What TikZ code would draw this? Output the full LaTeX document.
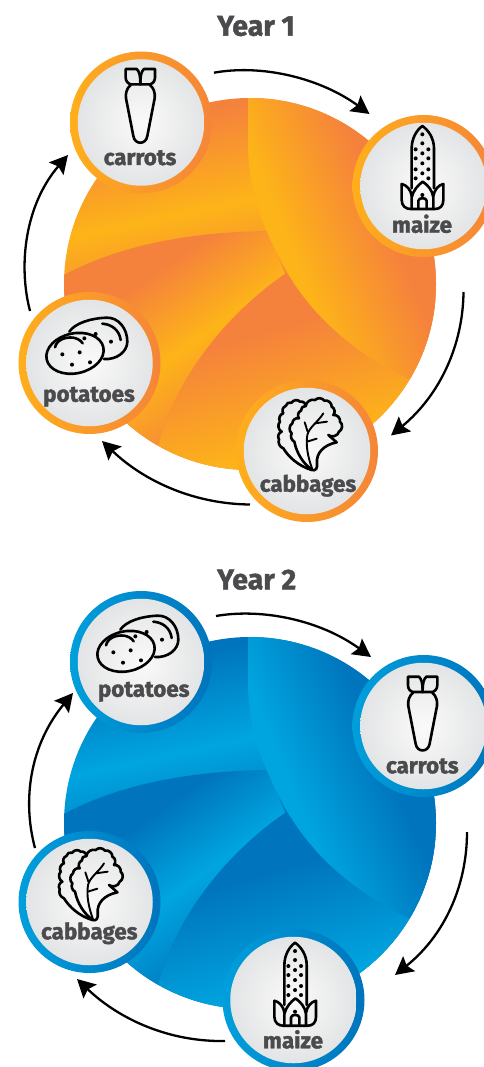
\documentclass[tikz,border=0pt]{standalone}
\usepackage{fontspec}
\setmainfont{Fira Sans}[BoldFeatures={FakeBold=1.6}]
\usetikzlibrary{arrows.meta}
\definecolor{txtgray}{HTML}{4B4B4D}
\definecolor{darkA}{HTML}{F5823C}
\definecolor{lightA}{HTML}{FDB418}
\definecolor{rimlA}{HTML}{FFAE1C}
\definecolor{rimdA}{HTML}{F58538}
\definecolor{darkB}{HTML}{0074BD}
\definecolor{lightB}{HTML}{00A5DF}
\definecolor{rimlB}{HTML}{009FDC}
\definecolor{rimdB}{HTML}{0074BD}
\definecolor{discedge}{HTML}{E3E4E5}
\definecolor{disccore}{HTML}{FAFAFA}
\pgfdeclareverticalshading{bladeAA}{100bp}{color(0bp)=(darkA); color(42bp)=(darkA); color(50bp)=(lightA); color(58bp)=(darkA); color(100bp)=(darkA)}
\pgfdeclareverticalshading{bladeBA}{100bp}{color(0bp)=(darkA); color(42.5bp)=(darkA); color(50bp)=(lightA); color(56.5bp)=(darkA); color(100bp)=(darkA)}
\pgfdeclareverticalshading{bladeCA}{100bp}{color(0bp)=(lightA); color(50bp)=(lightA); color(60bp)=(darkA); color(100bp)=(darkA)}
\pgfdeclareverticalshading{bladeDA}{100bp}{color(0bp)=(lightA); color(50bp)=(lightA); color(58.3bp)=(darkA); color(100bp)=(darkA)}
\pgfdeclareverticalshading{bladeAB}{100bp}{color(0bp)=(darkB); color(42bp)=(darkB); color(50bp)=(lightB); color(58bp)=(darkB); color(100bp)=(darkB)}
\pgfdeclareverticalshading{bladeBB}{100bp}{color(0bp)=(darkB); color(42.5bp)=(darkB); color(50bp)=(lightB); color(56.5bp)=(darkB); color(100bp)=(darkB)}
\pgfdeclareverticalshading{bladeCB}{100bp}{color(0bp)=(lightB); color(50bp)=(lightB); color(60bp)=(darkB); color(100bp)=(darkB)}
\pgfdeclareverticalshading{bladeDB}{100bp}{color(0bp)=(lightB); color(50bp)=(lightB); color(58.3bp)=(darkB); color(100bp)=(darkB)}
\tikzset{
  x=1pt,y=-1pt,
  ringnode/.style={circle,inner sep=0pt,minimum size=142pt,draw=none},
  facenode/.style={circle,inner sep=0pt,minimum size=126.5pt,draw=none,inner color=disccore,outer color=discedge},
  croplabel/.style={anchor=base,inner sep=0pt,text=txtgray,font=\fontsize{22.4}{23}\selectfont\bfseries},
  yearlabel/.style={anchor=base,inner sep=0pt,text=txtgray,font=\fontsize{28.5}{30}\selectfont\bfseries},
  cyc/.style={draw=black,line width=2.3pt,-{Stealth[length=18pt,width=19pt,inset=3pt]}},
  iconline/.style={draw=black,line width=2.6pt,line join=round,line cap=round,fill=none},
  iconfine/.style={draw=black,line width=1.9pt,line join=round,line cap=round,fill=none},
}
% --- disc with four blades; drawn in the coordinates of Year 1
\newcommand\bladedisc[1]{%
  \begin{scope}
    \clip (250,284) circle[radius=186];
    \shade[shading=bladeA#1,shading angle=12] (-134,-83) rectangle (466,517);
    \begin{scope}
      \clip (268,231) .. controls (190,232) and (115,245) .. (55,280) -- (40,460) -- (158,446)
        .. controls (178,370) and (235,308) .. (285,274) -- cycle;
      \shade[shading=bladeB#1,shading angle=35] (-105,40) rectangle (495,640);
    \end{scope}
    \begin{scope}
      \clip (285,274) .. controls (235,308) and (178,370) .. (158,446) -- (158,480) -- (440,480) -- (440,300) -- cycle;
      \shade[shading=bladeC#1,shading angle=16] (-10,150) rectangle (590,750);
    \end{scope}
    \begin{scope}
      \clip (248,90) -- (248,143) .. controls (248,190) and (262,225) .. (283,265)
        .. controls (310,315) and (355,355) .. (415,382) -- (480,382) -- (480,90) -- cycle;
      \shade[shading=bladeD#1,shading angle=-67.6] (-30,-100) rectangle (570,500);
    \end{scope}
  \end{scope}}
% --- icons; coordinates are those of 3x crops of the Year 1 picture
\newcommand\carroticon[2]{%
  \begin{scope}[shift={(60+#1,50+#2)},scale=1/3]
    \draw[iconline] (197,57) -- (230,57) .. controls (238,65) and (241,75) .. (241,103) -- (212,103) .. controls (202,100) and (197,92) .. (197,82) -- cycle;
    \draw[iconline] (285,57) -- (252,57) .. controls (244,65) and (241,75) .. (241,103) -- (270,103) .. controls (280,100) and (285,92) .. (285,82) -- cycle;
    \draw[iconline] (212,105) .. controls (200,115) and (196,130) .. (198,145) -- (220,258) .. controls (224,285) and (258,285) .. (262,258) -- (284,145) .. controls (286,130) and (282,115) .. (270,105);
  \end{scope}}
\newcommand\maizeicon[2]{%
  \begin{scope}[shift={(345+#1,110+#2)},scale=1/3]
    \draw[iconline] (200,235) -- (200,115) .. controls (200,85) and (215,60) .. (232,48) .. controls (250,60) and (267,85) .. (267,115) -- (267,235);
    \draw[iconline] (170,222) -- (170,270) .. controls (170,288) and (182,297) .. (197,297) -- (270,297) .. controls (285,297) and (295,288) .. (295,270) -- (295,222);
    \draw[iconline] (170,222) .. controls (185,225) and (198,240) .. (200,258);
    \draw[iconline] (295,222) .. controls (280,225) and (268,240) .. (265,258);
    \draw[iconline] (200,297) -- (200,262) .. controls (205,240) and (220,225) .. (233,215) .. controls (248,225) and (262,240) .. (265,262) -- (265,297);
    \draw[iconline] (220,297) -- (220,272) .. controls (222,262) and (243,262) .. (245,272) -- (245,297);
    \foreach \px/\py in {232/73,232/100,212/118,250/118,232/130,212/145,250/145,232/160,212/178,250/178,232/190,212/205,250/205,232/255}
      \fill[black] (\px,\py) circle[radius=6];
  \end{scope}}
\newcommand\potatoicon[2]{%
  \begin{scope}[shift={(10+#1,290+#2)},scale=1/3]
    \draw[iconline,rotate around={12:(195,190)}] (195,190) ellipse[x radius=87,y radius=60];
    \draw[iconline] (178,125) .. controls (195,100) and (240,85) .. (290,83) .. controls (325,82) and (352,115) .. (352,155) .. controls (352,185) and (320,210) .. (282,207);
    \draw[iconline] (135,172) .. controls (140,150) and (165,140) .. (190,143) .. controls (200,145) and (212,150) .. (218,160);
    \draw[iconline] (277,101) .. controls (305,103) and (328,120) .. (332,150);
    \foreach \px/\py in {157/193,209/187,186/224,240/217,223/145,257/132,303/155}
      \fill[black] (\px,\py) circle[radius=6];
  \end{scope}}
\newcommand\cabbageicon[2]{%
  \begin{scope}[shift={(265+#1,390+#2)},scale=1/3]
    \draw[iconline] (122,48) to[bend right=55] (105,35) to[bend right=55] (80,38) to[bend right=55] (62,48) to[bend right=55] (55,70) to[bend right=55] (45,95) to[bend right=55] (50,125) to[bend right=55] (42,148) to[bend right=45] (55,175) .. controls (70,200) and (100,228) .. (140,240);
    \draw[iconline] (140,240) .. controls (152,244) and (158,235) .. (156,220) .. controls (153,190) and (175,165) .. (215,157) -- (190,135) to[bend right=60] (222,125) to[bend right=60] (225,95) to[bend right=55] (205,75) to[bend right=55] (200,50) to[bend right=55] (178,32) to[bend right=50] (150,30) to[bend right=50] (122,48) to[bend right=55] (108,62) to[bend right=55] (102,85) to[bend right=55] (82,100) to[bend right=55] (80,130) to[bend right=45] (88,155) .. controls (95,190) and (115,222) .. (142,240);
    \draw[iconfine] (142,238) .. controls (128,200) and (122,165) .. (127,135) .. controls (132,112) and (160,95) .. (175,70);
    \draw[iconfine] (119,97) -- (128,125);
    \draw[iconfine] (150,100) -- (186,95);
    \draw[iconfine] (126,155) -- (155,146);
  \end{scope}}
\begin{document}
\begin{tikzpicture}
  \useasboundingbox (0,0) rectangle (484,1067);
  \clip (0,0) rectangle (484,1067);
  % ---------- Year 1
  \bladedisc{A}
  \node[yearlabel] (yearone) at (256,35.7) {Year 1};
  \node[ringnode,left color=rimlA,right color=rimdA] (carrotsA) at (141,122.5) {};
  \node[facenode] (carrotsAf) at (carrotsA) {};
  \carroticon{0}{0}
  \node[croplabel] (carrotsAt) at (140,165) {carrots};
  \node[ringnode,left color=rimlA,right color=rimdA] (maizeA) at (423.5,186) {};
  \node[facenode] (maizeAf) at (maizeA) {};
  \maizeicon{0}{0}
  \node[croplabel] (maizeAt) at (422,232.7) {maize};
  \node[ringnode,left color=rimlA,right color=rimdA] (cabbagesA) at (307,451) {};
  \node[facenode] (cabbagesAf) at (cabbagesA) {};
  \cabbageicon{0}{0}
  \node[croplabel] (cabbagesAt) at (308,491.7) {cabbages};
  \node[ringnode,left color=rimlA,right color=rimdA] (potatoesA) at (89.5,363) {};
  \node[facenode] (potatoesAf) at (potatoesA) {};
  \potatoicon{0}{0}
  \node[croplabel] (potatoesAt) at (89,401.7) {potatoes};
  \coordinate (a1) at (214,72.7);  \coordinate (a1e) at (369.5,114);
  \coordinate (a2) at (463.5,292); \coordinate (a2e) at (391,435.5);
  \coordinate (a3) at (250,504.5); \coordinate (a3e) at (102,441);
  \coordinate (a4) at (30,311);    \coordinate (a4e) at (68,155);
  \draw[cyc] (a1) .. controls (262,64) and (320,78) .. (a1e);
  \draw[cyc] (a2) .. controls (463,345) and (440,395) .. (a2e);
  \draw[cyc] (a3) .. controls (195,504) and (145,482) .. (a3e);
  \draw[cyc] (a4) .. controls (18,265) and (25,205) .. (a4e);
  % ---------- Year 2
  \begin{scope}[shift={(0,539)}]
    \bladedisc{B}
  \end{scope}
  \node[yearlabel] (yeartwo) at (256.7,589.3) {Year 2};
  \node[ringnode,left color=rimlB,right color=rimdB] (potatoesB) at (141,662) {};
  \node[facenode] (potatoesBf) at (potatoesB) {};
  \potatoicon{51}{298}
  \node[croplabel] (potatoesBt) at (143.7,696.7) {potatoes};
  \node[ringnode,left color=rimlB,right color=rimdB] (carrotsB) at (423.5,726) {};
  \node[facenode] (carrotsBf) at (carrotsB) {};
  \carroticon{282.3}{607.7}
  \node[croplabel] (carrotsBt) at (422.3,773.3) {carrots};
  \node[ringnode,left color=rimlB,right color=rimdB] (maizeB) at (293.5,1000) {};
  \node[facenode] (maizeBf) at (maizeB) {};
  \maizeicon{-127.3}{816.7}
  \node[croplabel] (maizeBt) at (293,1048.3) {maize};
  \node[ringnode,left color=rimlB,right color=rimdB] (cabbagesB) at (89.5,902) {};
  \node[facenode] (cabbagesBf) at (cabbagesB) {};
  \cabbageicon{-219.3}{450}
  \node[croplabel] (cabbagesBt) at (89.3,939.3) {cabbages};
  \coordinate (b1) at (216,616);   \coordinate (b1e) at (371,657);
  \coordinate (b2) at (467,832);   \coordinate (b2e) at (395,975);
  \coordinate (b3) at (225,1041);  \coordinate (b3e) at (77,979);
  \coordinate (b4) at (35,848);    \coordinate (b4e) at (73,693);
  \draw[cyc] (b1) .. controls (262,608) and (320,620) .. (b1e);
  \draw[cyc] (b2) .. controls (467,885) and (445,935) .. (b2e);
  \draw[cyc] (b3) .. controls (170,1042) and (120,1020) .. (b3e);
  \draw[cyc] (b4) .. controls (22,800) and (30,745) .. (b4e);
\end{tikzpicture}
\end{document}
